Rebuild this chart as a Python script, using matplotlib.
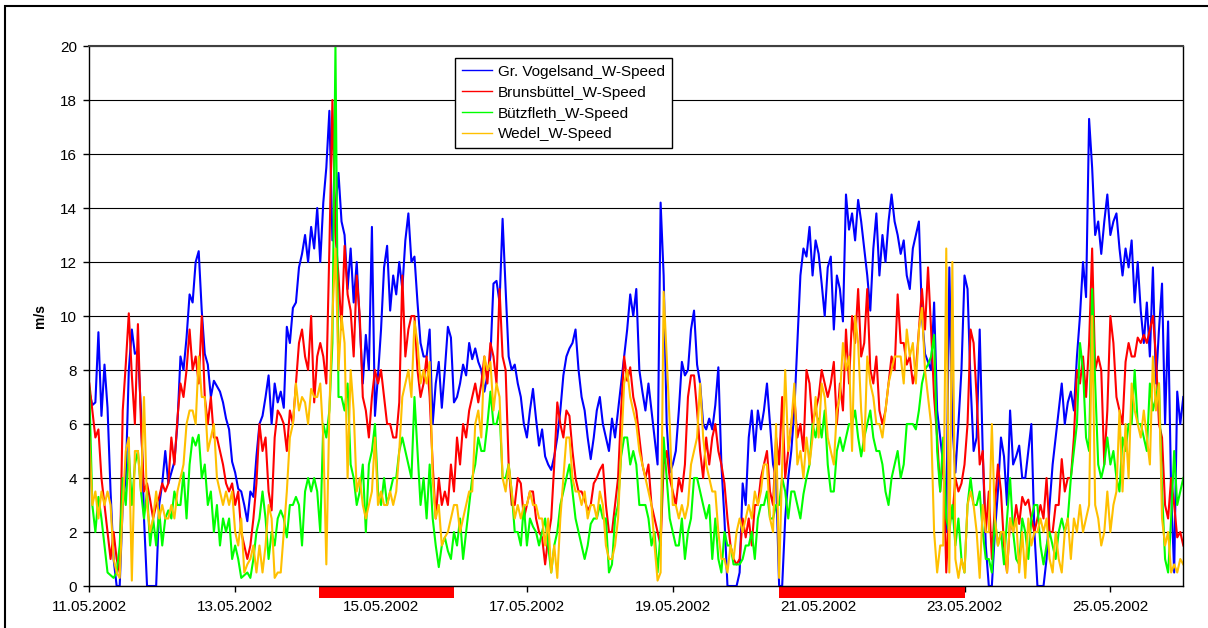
import pandas as pd
import matplotlib
matplotlib.use('Agg')
import matplotlib.pyplot as plt
import matplotlib.dates as mdates
from matplotlib.patches import Rectangle
from matplotlib.transforms import blended_transform_factory

plt.rcParams['font.family'] = ['Liberation Sans', 'DejaVu Sans']

# hourly wind speed (m/s) from 11.05.2002 00:00, one line per day
start = '2002-05-11 00:00'

gr_vogelsand = [
    7.2, 6.7, 6.8, 9.4, 6.3, 8.2, 6.6, 3.5, 1.0, 0.0, 0.0, 3.0, 4.0, 8.0, 9.5, 8.6, 8.7, 6.5, 2.5, 0.0, 0.0, 0.0, 0.0, 3.0,
    3.8, 5.0, 3.8, 4.2, 4.6, 6.0, 8.5, 8.0, 9.2, 10.8, 10.5, 12.0, 12.4, 10.2, 8.6, 8.2, 7.0, 7.6, 7.4, 7.2, 6.8, 6.2, 5.8, 4.6,
    4.2, 3.6, 3.5, 3.0, 2.4, 3.5, 3.3, 4.8, 6.0, 6.3, 7.0, 7.8, 6.0, 7.5, 6.8, 7.2, 6.6, 9.6, 9.0, 10.3, 10.5, 11.8, 12.3, 13.0,
    12.0, 13.3, 12.5, 14.0, 12.0, 14.2, 15.5, 17.6, 12.8, 14.0, 15.3, 13.5, 13.0, 11.0, 12.5, 10.5, 12.0, 9.7, 7.5, 9.3, 8.0, 13.3, 6.3, 7.8,
    9.5, 11.8, 12.6, 10.2, 11.5, 10.8, 12.0, 11.0, 12.8, 13.8, 12.0, 12.2, 10.5, 9.0, 8.5, 8.5, 9.5, 6.0, 7.5, 8.3, 6.6, 8.0, 9.6, 9.2,
    6.8, 7.0, 7.5, 8.2, 7.8, 9.0, 8.4, 8.8, 8.3, 8.0, 7.2, 7.8, 8.5, 11.2, 11.3, 10.5, 13.6, 11.0, 8.5, 8.0, 8.2, 7.5, 7.0, 6.0,
    5.5, 6.5, 7.3, 6.2, 5.2, 5.8, 4.8, 4.5, 4.3, 4.8, 5.5, 6.5, 7.8, 8.5, 8.8, 9.0, 9.5, 8.0, 7.0, 6.5, 5.5, 4.7, 5.5, 6.5,
    7.0, 6.0, 5.5, 5.0, 6.2, 5.5, 6.5, 7.5, 8.5, 9.5, 10.8, 10.0, 11.0, 8.0, 7.2, 6.5, 7.5, 6.5, 5.5, 4.5, 14.2, 11.5, 6.0, 4.2,
    4.5, 5.0, 6.5, 8.3, 7.8, 8.0, 9.5, 10.2, 8.2, 7.5, 6.0, 5.8, 6.2, 5.8, 6.7, 8.1, 4.5, 2.5, 0.0, 0.0, 0.0, 0.0, 0.5, 3.8,
    3.0, 5.5, 6.5, 5.0, 6.5, 5.8, 6.5, 7.5, 6.0, 4.5, 4.0, 0.0, 0.0, 2.5, 4.0, 5.0, 6.5, 9.0, 11.5, 12.5, 12.2, 13.3, 11.5, 12.8,
    12.3, 11.2, 10.0, 11.8, 12.2, 9.5, 11.5, 11.0, 9.8, 14.5, 13.2, 13.8, 12.8, 14.3, 13.5, 12.5, 11.5, 10.2, 12.5, 13.8, 11.5, 13.0, 12.0, 13.5,
    14.5, 13.5, 13.0, 12.3, 12.8, 11.5, 11.0, 12.5, 13.0, 13.5, 10.0, 8.6, 8.3, 8.0, 10.5, 6.5, 5.5, 4.5, 2.0, 11.8, 6.0, 4.2, 6.0, 8.0,
    11.5, 11.0, 7.5, 5.0, 5.5, 9.5, 5.0, 1.5, 0.0, 0.0, 2.0, 3.5, 5.5, 4.8, 3.0, 6.5, 4.5, 4.8, 5.2, 4.0, 4.0, 5.0, 6.0, 2.0,
    0.0, 0.0, 0.0, 1.0, 3.0, 4.5, 5.5, 6.5, 7.5, 6.0, 6.8, 7.2, 6.5, 8.5, 10.0, 12.0, 10.7, 17.3, 15.5, 13.0, 13.5, 12.3, 13.5, 14.5,
    13.0, 13.5, 13.8, 12.5, 11.5, 12.5, 11.8, 12.8, 10.5, 12.0, 10.2, 9.0, 10.5, 8.5, 11.8, 7.5, 9.5, 11.2, 6.0, 9.8, 3.5, 0.5, 7.2, 6.0,
    7.0,
]

brunsbuettel = [
    7.5, 6.5, 5.5, 5.8, 4.0, 3.0, 2.0, 1.0, 2.0, 1.0, 0.5, 6.5, 8.2, 10.1, 7.8, 6.0, 9.7, 6.0, 3.5, 3.8, 3.2, 2.5, 3.0, 3.3,
    3.8, 3.5, 3.8, 5.5, 4.5, 6.2, 7.5, 7.0, 8.0, 9.5, 8.0, 8.5, 7.5, 10.0, 7.0, 6.0, 7.0, 5.5, 5.5, 5.0, 4.5, 3.8, 3.5, 3.8,
    3.0, 3.5, 2.0, 1.5, 1.0, 1.5, 2.5, 3.8, 6.0, 5.0, 5.5, 3.5, 2.8, 5.5, 6.5, 6.3, 6.0, 5.0, 6.5, 6.0, 7.5, 9.0, 9.5, 8.5,
    8.0, 10.0, 6.8, 8.5, 9.0, 8.5, 7.5, 12.5, 18.0, 13.0, 11.5, 9.5, 12.6, 10.8, 10.2, 8.5, 11.5, 10.0, 7.0, 6.5, 5.5, 7.0, 8.0, 7.5,
    8.0, 7.0, 6.0, 6.0, 5.5, 5.5, 6.8, 11.5, 8.5, 9.5, 10.0, 10.0, 8.0, 7.0, 7.5, 8.5, 7.0, 4.5, 2.5, 4.0, 3.0, 3.5, 3.0, 4.5,
    3.5, 5.5, 4.5, 6.0, 5.5, 6.5, 7.0, 7.5, 6.8, 7.5, 8.5, 7.5, 9.0, 8.5, 7.5, 11.0, 8.5, 8.0, 4.5, 3.0, 3.0, 4.0, 3.8, 2.5,
    3.0, 3.5, 3.5, 2.5, 2.0, 1.8, 0.8, 1.8, 2.5, 4.5, 6.8, 6.0, 5.5, 6.5, 6.3, 5.0, 4.0, 3.5, 3.5, 3.2, 2.8, 3.0, 3.8, 4.0,
    4.3, 4.5, 3.0, 2.0, 2.0, 3.0, 4.0, 6.5, 8.5, 7.6, 8.1, 7.0, 6.5, 5.5, 4.5, 4.0, 4.5, 3.0, 2.5, 2.0, 1.5, 4.5, 5.0, 4.0,
    3.5, 3.0, 4.0, 3.5, 4.5, 7.0, 7.8, 7.8, 6.5, 5.0, 4.0, 5.5, 4.5, 5.5, 6.0, 5.0, 4.5, 3.8, 2.5, 1.5, 1.0, 0.8, 1.0, 2.5,
    1.8, 2.5, 1.5, 3.0, 3.0, 4.0, 4.5, 5.0, 3.5, 3.0, 5.5, 4.5, 7.0, 4.0, 5.0, 6.0, 7.0, 5.5, 6.0, 5.0, 8.0, 7.5, 6.0, 6.5,
    7.0, 8.0, 7.5, 7.0, 7.5, 8.3, 6.0, 7.5, 6.5, 9.5, 7.5, 10.0, 9.0, 11.0, 8.5, 9.0, 11.0, 8.0, 7.5, 8.5, 6.5, 6.0, 6.5, 7.5,
    8.5, 8.0, 10.8, 9.0, 9.0, 8.2, 8.5, 7.5, 8.0, 9.5, 11.0, 9.5, 11.8, 9.5, 7.0, 5.5, 3.5, 5.0, 0.5, 3.0, 2.5, 4.0, 3.5, 3.8,
    4.5, 6.0, 9.5, 9.0, 7.0, 4.5, 5.0, 2.0, 3.5, 1.0, 3.0, 4.5, 3.5, 1.5, 0.5, 2.5, 2.0, 3.0, 2.3, 3.3, 3.0, 3.2, 2.5, 2.0,
    2.5, 3.0, 2.5, 4.0, 2.0, 2.0, 3.0, 3.0, 4.7, 3.5, 4.0, 4.0, 5.5, 8.0, 7.5, 8.5, 7.0, 9.0, 12.5, 8.0, 8.5, 8.0, 4.5, 6.5,
    10.0, 9.0, 7.0, 6.5, 6.0, 8.3, 9.0, 8.5, 8.5, 9.2, 9.0, 9.3, 9.0, 9.5, 10.0, 8.5, 6.0, 5.5, 3.0, 2.5, 4.0, 3.0, 1.8, 2.0,
    1.5,
]

buetzfleth = [
    7.3, 3.0, 2.0, 3.3, 2.5, 1.5, 0.5, 0.4, 0.3, 0.5, 1.5, 4.0, 3.0, 5.0, 3.0, 4.5, 5.0, 3.5, 2.5, 3.5, 1.5, 2.5, 1.5, 2.8,
    1.5, 2.5, 2.8, 2.5, 3.5, 3.0, 3.0, 4.2, 2.5, 4.5, 5.5, 5.2, 5.6, 4.0, 4.5, 3.0, 3.5, 2.0, 3.0, 1.5, 2.5, 2.0, 2.5, 1.0,
    1.5, 1.0, 0.3, 0.4, 0.5, 0.3, 1.0, 2.0, 2.5, 3.5, 2.5, 1.0, 2.0, 1.5, 2.5, 2.8, 2.5, 1.8, 3.0, 3.0, 3.3, 3.0, 1.5, 3.5,
    4.0, 3.5, 4.0, 3.5, 2.0, 6.0, 5.5, 6.5, 9.0, 20.0, 7.0, 7.0, 6.5, 7.5, 4.5, 4.0, 3.0, 3.5, 4.5, 2.0, 4.5, 5.0, 6.0, 3.5,
    3.0, 4.0, 3.0, 3.5, 4.0, 4.0, 5.0, 5.5, 5.0, 4.5, 4.0, 7.0, 5.0, 3.0, 4.0, 2.5, 4.5, 2.5, 1.5, 0.7, 1.5, 1.8, 1.3, 1.0,
    2.0, 1.5, 2.5, 1.0, 2.0, 3.0, 4.0, 4.5, 5.5, 5.0, 5.0, 6.0, 7.2, 6.0, 6.0, 6.5, 4.0, 4.0, 4.5, 3.5, 2.0, 2.0, 1.5, 3.0,
    1.5, 2.5, 2.2, 2.0, 1.5, 2.0, 2.5, 1.5, 0.5, 1.5, 2.0, 3.0, 3.5, 4.0, 4.5, 3.5, 2.5, 2.0, 1.5, 1.0, 1.5, 2.3, 2.5, 2.5,
    3.0, 2.5, 2.5, 0.5, 0.8, 2.5, 3.0, 4.8, 5.5, 5.5, 4.5, 5.0, 4.5, 3.0, 3.0, 3.0, 2.5, 1.5, 2.0, 0.5, 2.0, 5.5, 4.0, 2.5,
    2.0, 1.5, 1.5, 2.5, 1.0, 2.0, 2.5, 4.0, 4.0, 3.5, 3.0, 2.5, 3.0, 1.0, 2.5, 1.0, 0.5, 2.0, 1.5, 1.5, 0.8, 0.8, 0.8, 1.0,
    1.5, 1.5, 2.0, 1.0, 2.5, 3.0, 3.0, 3.5, 2.5, 2.5, 3.0, 3.0, 4.0, 3.5, 2.5, 3.5, 3.5, 3.0, 2.5, 3.4, 4.0, 4.5, 6.0, 5.5,
    6.2, 5.5, 6.5, 4.5, 3.5, 3.5, 5.0, 5.5, 5.0, 5.5, 6.0, 6.0, 6.5, 5.5, 4.8, 5.5, 6.0, 6.5, 5.5, 5.0, 5.0, 4.5, 3.5, 3.0,
    4.0, 4.5, 5.0, 4.0, 4.5, 6.0, 6.0, 6.0, 5.8, 6.5, 7.5, 8.0, 8.2, 8.5, 9.3, 5.0, 3.5, 5.5, 2.5, 2.0, 3.0, 1.5, 2.5, 1.0,
    0.5, 3.0, 4.0, 3.0, 3.0, 3.5, 2.0, 1.0, 1.0, 0.5, 2.5, 1.5, 2.0, 0.8, 2.5, 4.0, 2.0, 1.0, 0.8, 2.5, 2.0, 1.0, 2.5, 3.0,
    3.0, 1.5, 0.8, 1.5, 2.0, 1.5, 1.0, 2.0, 2.5, 2.0, 2.5, 4.0, 5.0, 6.0, 9.0, 8.0, 5.5, 5.0, 11.0, 7.5, 4.5, 4.0, 4.5, 5.5,
    4.5, 5.0, 4.0, 3.5, 5.5, 5.0, 6.0, 6.0, 8.0, 6.0, 6.0, 5.5, 5.0, 7.5, 6.5, 7.0, 7.5, 3.5, 1.0, 0.5, 2.5, 5.0, 3.0, 3.5,
    4.0,
]

wedel = [
    5.5, 3.0, 3.5, 2.5, 3.5, 3.0, 3.5, 3.0, 1.0, 0.5, 0.3, 3.0, 5.0, 5.5, 0.2, 5.0, 5.0, 3.5, 7.0, 3.0, 2.0, 2.5, 3.5, 2.5,
    3.0, 2.5, 2.5, 3.0, 2.5, 3.5, 4.0, 4.5, 6.0, 6.5, 6.5, 6.0, 8.5, 7.0, 7.0, 5.0, 5.5, 6.0, 4.0, 3.5, 3.0, 3.5, 3.0, 3.5,
    2.0, 1.5, 2.5, 0.5, 0.8, 1.0, 1.5, 0.5, 1.5, 0.5, 1.5, 3.0, 2.5, 0.3, 0.5, 0.5, 2.0, 3.5, 5.5, 6.0, 7.5, 6.5, 7.0, 6.8,
    6.0, 7.3, 7.0, 7.0, 7.5, 5.5, 0.8, 6.5, 10.0, 12.5, 8.0, 10.0, 9.0, 4.0, 8.0, 6.5, 3.5, 4.0, 3.0, 2.5, 3.0, 3.5, 5.5, 3.0,
    3.5, 3.0, 3.0, 3.5, 3.0, 3.5, 5.0, 7.0, 7.5, 8.0, 7.0, 9.8, 9.0, 7.5, 8.0, 7.5, 8.3, 4.0, 2.5, 3.0, 1.5, 1.8, 2.0, 2.5,
    3.0, 3.0, 2.0, 2.5, 3.0, 3.5, 3.5, 6.0, 6.5, 5.5, 8.5, 8.0, 8.3, 6.5, 7.5, 7.0, 4.0, 3.5, 4.5, 3.5, 2.5, 3.0, 2.5, 3.0,
    3.0, 3.5, 3.0, 3.0, 2.5, 2.5, 1.5, 2.5, 0.5, 1.5, 0.3, 2.5, 4.0, 5.5, 5.5, 4.0, 3.5, 3.5, 3.0, 3.5, 2.5, 3.0, 3.0, 2.5,
    3.5, 3.0, 1.5, 1.0, 1.0, 1.5, 2.5, 5.0, 7.5, 8.0, 7.0, 6.5, 6.0, 5.0, 4.5, 4.0, 3.5, 3.0, 1.5, 0.2, 0.5, 10.9, 8.5, 6.0,
    3.0, 3.0, 2.5, 3.0, 2.5, 3.0, 4.5, 5.0, 5.5, 7.5, 5.5, 4.5, 4.0, 3.5, 3.5, 2.0, 1.0, 1.0, 0.5, 1.5, 1.0, 2.0, 2.5, 2.0,
    2.5, 3.0, 2.5, 3.5, 3.0, 3.5, 4.5, 4.5, 2.5, 2.0, 6.0, 0.3, 4.5, 8.0, 5.0, 6.0, 7.5, 4.5, 5.0, 4.0, 5.5, 4.5, 5.5, 7.0,
    5.5, 7.5, 7.0, 5.5, 5.0, 4.5, 6.5, 7.0, 9.0, 8.0, 8.5, 5.0, 10.0, 9.0, 6.5, 5.0, 8.5, 7.5, 7.0, 6.0, 6.0, 5.5, 6.5, 7.5,
    8.0, 8.5, 8.5, 8.5, 7.5, 9.5, 8.5, 9.0, 7.5, 9.5, 10.3, 8.0, 7.0, 6.0, 2.0, 0.5, 1.5, 1.5, 12.5, 0.5, 12.0, 1.0, 0.3, 1.0,
    0.5, 3.0, 3.5, 3.0, 2.0, 0.3, 3.0, 2.0, 2.0, 6.0, 2.5, 1.5, 2.0, 2.0, 0.5, 2.5, 2.0, 2.5, 0.5, 2.0, 0.3, 2.5, 1.5, 2.0,
    2.0, 2.5, 2.0, 2.5, 1.0, 0.5, 2.0, 1.0, 0.5, 2.0, 2.5, 1.0, 2.5, 2.0, 3.0, 2.0, 2.5, 3.0, 10.0, 3.0, 2.5, 1.5, 2.0, 3.5,
    2.0, 3.0, 3.5, 6.5, 3.5, 6.0, 4.0, 7.5, 6.5, 6.0, 5.5, 6.5, 5.5, 4.5, 8.5, 6.5, 7.5, 2.5, 1.5, 2.0, 0.5, 0.8, 0.5, 1.0,
    0.8,
]

series = [gr_vogelsand, brunsbuettel, buetzfleth, wedel]
labels = ['Gr. Vogelsand_W-Speed', 'Brunsbüttel_W-Speed', 'Bützfleth_W-Speed', 'Wedel_W-Speed']
colors = ['#0000FF', '#FF0000', '#00FF00', '#FFC000']

tick_dates = pd.date_range('2002-05-11', '2002-05-25', freq='2D')
# marked periods drawn as red bars under the time axis
periods = [('2002-05-14 03:30', '2002-05-16 00:00'),
           ('2002-05-20 11:00', '2002-05-23 00:00')]

fig = plt.figure(figsize=(12.08, 6.28), dpi=100)
ax = fig.add_axes([89.3 / 1208, 1 - 586 / 628, 1094 / 1208, 540 / 628])

for vals, lab, col in zip(series, labels, colors):
    t = pd.date_range(start, periods=len(vals), freq='h')
    ax.plot(t, vals, color=col, lw=1.5, label=lab)

ax.set_xlim(pd.Timestamp('2002-05-11'), pd.Timestamp('2002-05-26'))
ax.set_ylim(0, 20)
ax.set_yticks(range(0, 21, 2))
ax.set_xticks(tick_dates)
ax.xaxis.set_major_formatter(mdates.DateFormatter('%d.%m.%Y'))
ax.grid(axis='y', color='black', lw=0.8)
ax.set_axisbelow(True)
for s in ax.spines.values():
    s.set_color('black')
    s.set_linewidth(1.0)
ax.spines['top'].set_color('#404040')
ax.spines['top'].set_linewidth(1.5)
ax.tick_params(direction='out', length=4, width=1, labelsize=11)
ax.tick_params(axis='x', pad=6)
ax.tick_params(axis='y', pad=5)

ax.set_ylabel('m/s', fontsize=10, fontweight='bold')
ax.yaxis.set_label_coords(-0.039, 0.5)

trans = blended_transform_factory(ax.transData, ax.transAxes)
for p0, p1 in periods:
    x0 = mdates.date2num(pd.Timestamp(p0))
    x1 = mdates.date2num(pd.Timestamp(p1))
    ax.add_patch(Rectangle((x0, -0.022), x1 - x0, 0.02, transform=trans,
                           facecolor='#FF0000', edgecolor='none', clip_on=False))

leg = ax.legend(loc='upper left', bbox_to_anchor=(0.334, 0.978), borderaxespad=0,
                fontsize=11, frameon=True, fancybox=False, framealpha=1,
                edgecolor='black', handlelength=2.0, handletextpad=0.4,
                labelspacing=0.45, borderpad=0.45)
leg.get_frame().set_linewidth(1.0)
for h in leg.get_lines():
    h.set_linewidth(1.0)

# chart border: only the left and top edges fall inside the picture
fig.patches.append(Rectangle((5 / 1208, -0.1), 1.2, 1.1 - 6 / 628,
                             transform=fig.transFigure, fill=False,
                             edgecolor='black', lw=1.5))

fig.savefig('out.png', dpi=100)
